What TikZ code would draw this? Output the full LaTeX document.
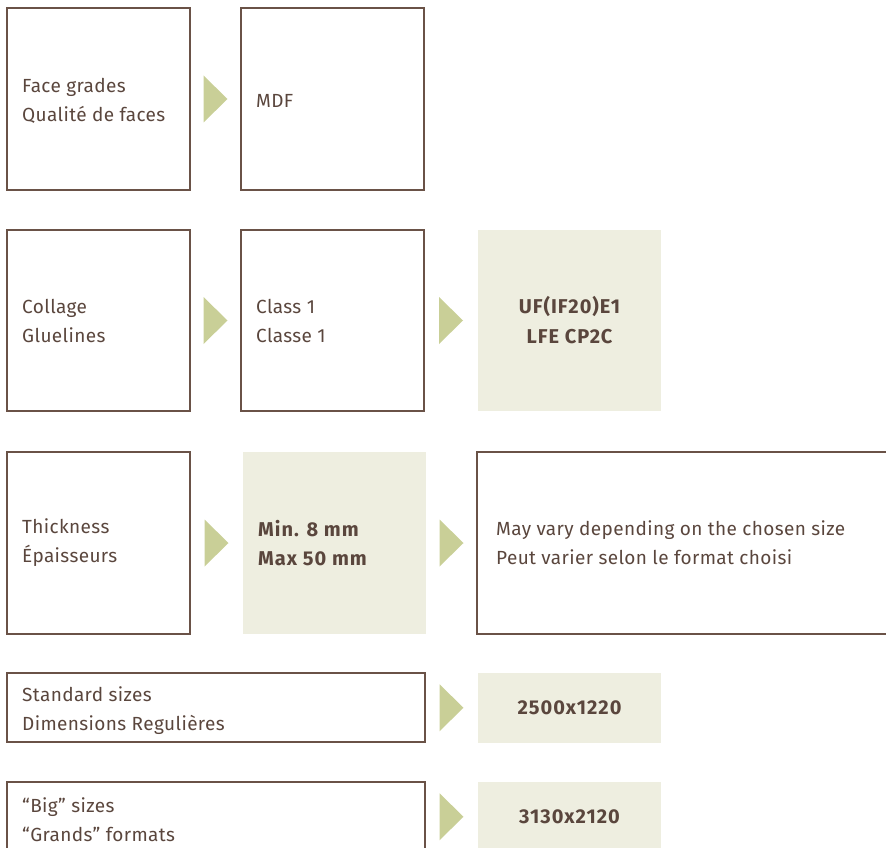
\documentclass[tikz,border=0pt]{standalone}
\usepackage{fontspec}
\setmainfont{Fira Sans}[LetterSpace=2]
\newfontfamily\boldfam{Fira Sans}[LetterSpace=5]
\usetikzlibrary{calc}
\definecolor{brd}{HTML}{6A5247}
\definecolor{ink}{HTML}{5A463D}
\definecolor{tri}{HTML}{C9CF97}
\definecolor{pale}{HTML}{EEEEE0}
\tikzset{
  box/.style={draw=brd, line width=1.5pt, anchor=north west, inner sep=0pt, outer sep=0pt},
  fbox/.style={fill=pale, anchor=north west, inner sep=0pt, outer sep=0pt},
  txt/.style={text=ink, anchor=west, align=left, inner sep=0pt, font=\fontsize{19pt}{29pt}\selectfont},
  btxt/.style={text=ink, align=center, inner sep=0pt, font=\boldfam\bfseries\fontsize{20pt}{30pt}\selectfont},
  arrowtri/.style={fill=tri}
}
\newcommand{\mytri}[2]{\fill[arrowtri] ($(#1.east)!0.5!(#2.west)$) ++(-12,-23.5) -- ++(24,23.5) -- ++(-24,23.5) -- cycle;}
\begin{document}
\begin{tikzpicture}[x=1pt,y=-1pt]
\useasboundingbox (0,0) rectangle (886,848);
\clip (0,0) rectangle (886,848);
% Row 1
\node[box, minimum width=183pt, minimum height=182pt] (fg) at (7,8) {};
\node[box, minimum width=183pt, minimum height=182pt] (mdf) at (241,8) {};
\node[txt] (fgt) at ([xshift=15pt,yshift=-2pt]fg.west) {Face grades\\Qualité de faces};
\node[txt] (mdft) at ([xshift=15pt,yshift=-2pt]mdf.west) {MDF};
\mytri{fg}{mdf}
% Row 2
\node[box, minimum width=183pt, minimum height=181pt] (col) at (7,230) {};
\node[box, minimum width=183pt, minimum height=181pt] (cls) at (241,230) {};
\node[fbox, minimum width=183pt, minimum height=181pt] (uf) at (478,230) {};
\node[txt] (colt) at ([xshift=15pt]col.west) {Collage\\Gluelines};
\node[txt] (clst) at ([xshift=15pt]cls.west) {Class 1\\Classe 1};
\node[btxt] (uft) at (uf.center) {UF(IF20)E1\\LFE CP2C};
\mytri{col}{cls}
\mytri{cls}{uf}
% Row 3
\node[box, minimum width=183pt, minimum height=182pt] (th) at (7,452) {};
\node[fbox, minimum width=183pt, minimum height=182pt] (mm) at (243,452) {};
\node[box, minimum width=430pt, minimum height=182pt] (mv) at (477,452) {};
\node[txt] (tht) at ([xshift=15pt]th.west) {Thickness\\Épaisseurs};
\node[txt, font=\boldfam\bfseries\fontsize{20pt}{29pt}\selectfont] (mmt) at ([xshift=15pt]mm.west) {Min. 8 mm\\Max 50 mm};
\node[txt] (mvt) at ([xshift=19pt]mv.west) {May vary depending on the chosen size\\Peut varier selon le format choisi};
\mytri{th}{mm}
\mytri{mm}{mv}
% Row 4
\node[box, minimum width=418pt, minimum height=69pt] (ss) at (7,673) {};
\node[fbox, minimum width=183pt, minimum height=70pt] (s1) at (478,673) {};
\node[txt] (sst) at ([xshift=15pt,yshift=-3pt]ss.west) {Standard sizes\\Dimensions Regulières};
\node[btxt] (s1t) at (s1.center) {2500x1220};
\mytri{ss}{s1}
% Row 5
\node[box, minimum width=418pt, minimum height=69pt] (bs) at (7,782) {};
\node[fbox, minimum width=183pt, minimum height=70pt] (s2) at (478,782) {};
\node[txt] (bst) at ([xshift=15pt,yshift=-3pt]bs.west) {“Big” sizes\\“Grands” formats};
\node[btxt] (s2t) at (s2.center) {3130x2120};
\mytri{bs}{s2}
\end{tikzpicture}
\end{document}
